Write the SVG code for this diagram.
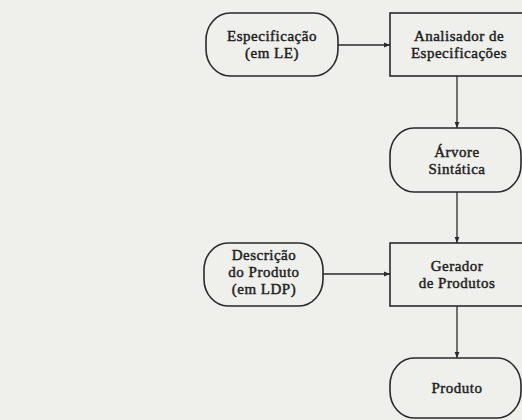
<svg xmlns="http://www.w3.org/2000/svg" width="522" height="420" viewBox="0 0 522 420">
  <defs>
    <marker id="arr" viewBox="0 0 10 10" refX="10" refY="5" markerWidth="6" markerHeight="6" markerUnits="userSpaceOnUse" orient="auto">
      <path d="M0,1 L10,5 L0,9 z" fill="#2a2a2a"/>
    </marker>
  </defs>
  <style>
    .node { fill: none; stroke: #2a2a2a; stroke-width: 1.6; }
    .edge { fill: none; stroke: #2a2a2a; stroke-width: 1.3; marker-end: url(#arr); }
    .lbl { font-family: "Liberation Serif", "Times New Roman", serif; font-size: 15px; font-weight: normal; letter-spacing: 0.5px; fill: #1e1e1e; stroke: #1e1e1e; stroke-width: 0.45; text-anchor: middle; }
  </style>
  <rect x="0" y="0" width="522" height="420" fill="#efefec"/>

  <g id="connectors">
    <line class="edge" x1="338" y1="45" x2="390" y2="45"/>
    <line class="edge" x1="457" y1="76" x2="457" y2="128"/>
    <line class="edge" x1="457" y1="192" x2="457" y2="243"/>
    <line class="edge" x1="323" y1="274" x2="390" y2="274"/>
    <line class="edge" x1="457" y1="306" x2="457" y2="358"/>
  </g>

  <g id="especificacao">
    <rect class="node" x="206" y="13" width="132" height="63" rx="24" ry="27"/>
    <text class="lbl" x="272" y="41">Especificação</text>
    <text class="lbl" x="272" y="58">(em LE)</text>
  </g>

  <g id="analisador">
    <rect class="node" x="390" y="13" width="134" height="63"/>
    <text class="lbl" x="459" y="41">Analisador de</text>
    <text class="lbl" x="459" y="58">Especificações</text>
  </g>

  <g id="arvore">
    <rect class="node" x="390" y="128" width="131" height="64" rx="24" ry="27"/>
    <text class="lbl" x="457" y="157">Árvore</text>
    <text class="lbl" x="457" y="174">Sintática</text>
  </g>

  <g id="descricao">
    <rect class="node" x="204" y="243" width="119" height="63" rx="24" ry="27"/>
    <text class="lbl" x="264" y="260">Descrição</text>
    <text class="lbl" x="264" y="277">do Produto</text>
    <text class="lbl" x="264" y="294">(em LDP)</text>
  </g>

  <g id="gerador">
    <rect class="node" x="390" y="243" width="134" height="63"/>
    <text class="lbl" x="457" y="271">Gerador</text>
    <text class="lbl" x="457" y="288">de Produtos</text>
  </g>

  <g id="produto">
    <rect class="node" x="390" y="358" width="131" height="60" rx="24" ry="27"/>
    <text class="lbl" x="457" y="393">Produto</text>
  </g>
</svg>
